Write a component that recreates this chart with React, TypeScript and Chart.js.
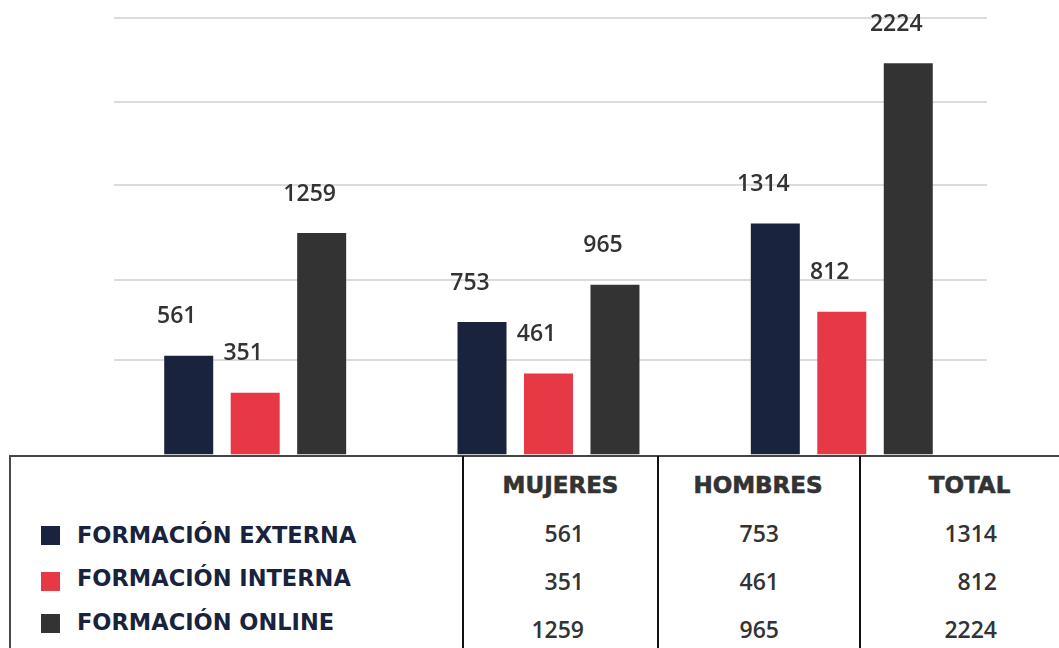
import React, { useEffect, useRef } from 'react';
import { Chart, registerables } from 'chart.js';

Chart.register(...registerables);

// ---- data ----
const categories = ['MUJERES', 'HOMBRES', 'TOTAL'];
const seriesNames = ['FORMACIÓN EXTERNA', 'FORMACIÓN INTERNA', 'FORMACIÓN ONLINE'];
const externa = [561, 753, 1314];
const interna = [351, 461, 812];
const online = [1259, 965, 2224];
const gridValues = [538, 993, 1533, 2007, 2482];
const colors = ['#1a233e', '#e73845', '#333333'];

const seriesValues = [externa, interna, online];

const Y_MAX = 2482;

type TextProps = {
  x: number;
  y: number;
  size: number;
  text: string;
  align: 'left' | 'center' | 'right';
  font: string;
  weight: number;
  color: string;
  stroke?: number;
};

function Txt({ x, y, size, text, align, font, weight, color, stroke }: TextProps) {
  const tx = align === 'left' ? '0' : align === 'center' ? '-50%' : '-100%';
  return (
    <div
      style={{
        position: 'absolute',
        left: x,
        top: y - size / 2,
        fontSize: size,
        lineHeight: size + 'px',
        fontFamily: font,
        fontWeight: weight,
        color,
        whiteSpace: 'nowrap',
        WebkitTextStroke: stroke ? `${stroke}px ${color}` : undefined,
        transform: `translateX(${tx})`,
      }}
    >
      {text}
    </div>
  );
}

export default function App() {
  const ref = useRef<HTMLCanvasElement>(null);

  useEffect(() => {
    if (!ref.current) return;
    const labelPlugin = {
      id: 'valueLabels',
      afterDatasetsDraw(chart: any) {
        const ctx = chart.ctx;
        ctx.save();
        ctx.font = '600 23px "Open Sans"';
        ctx.fillStyle = '#333333';
        ctx.textAlign = 'center';
        ctx.textBaseline = 'middle';
        chart.data.datasets.forEach((_ds: any, di: number) => {
          const meta = chart.getDatasetMeta(di);
          meta.data.forEach((el: any, i: number) => {
            ctx.fillText(String(seriesValues[di][i]), el.x - 12, el.y - 39);
          });
        });
        ctx.restore();
      },
    };

    const chart = new Chart(ref.current, {
      type: 'bar',
      data: {
        datasets: seriesNames.map((name, si) => ({
          label: name,
          data: seriesValues[si].map((v, i) => ({ x: i, y: v })),
          backgroundColor: colors[si],
          borderWidth: 0,
          categoryPercentage: 0.68,
          barPercentage: 0.737,
        })),
      },
      options: {
        animation: false,
        responsive: false,
        devicePixelRatio: 1,
        layout: { padding: { left: 114, right: 72, top: 18, bottom: 5.5 } },
        plugins: {
          legend: { display: false },
          tooltip: { enabled: false },
        },
        scales: {
          x: {
            type: 'linear',
            offset: false,
            min: -0.4814,
            max: 2.4951,
            display: false,
            afterBuildTicks: (axis: any) => {
              axis.ticks = categories.map((_c, i) => ({ value: i }));
            },
          },
          y: {
            min: 0,
            max: Y_MAX,
            afterBuildTicks: (axis: any) => {
              axis.ticks = gridValues.map((v) => ({ value: v }));
            },
            ticks: { display: false },
            grid: { color: '#dcdcdc', lineWidth: 2, drawTicks: false },
            border: { display: false },
          },
        },
      } as any,
      plugins: [labelPlugin],
    });
    return () => chart.destroy();
  }, []);

  const colLines = [462, 657, 859];
  const headerX = [560.5, 758, 969.5];
  const numRightX = [584, 779, 997];
  const rowY = [533, 581, 629];
  const legendTextY = [535.5, 578.5, 622];
  const legendBoxY = [526, 572, 614];

  return (
    <div
      style={{
        position: 'absolute',
        left: 0,
        top: 0,
        width: 1059,
        height: 648,
        background: '#ffffff',
        overflow: 'hidden',
      }}
    >
      <canvas
        ref={ref}
        width={1059}
        height={460}
        style={{ position: 'absolute', left: 0, top: 0, width: 1059, height: 460 }}
      />
      {/* table borders */}
      <div style={{ position: 'absolute', left: 9, top: 455, width: 1050, height: 2, background: '#444444' }} />
      <div style={{ position: 'absolute', left: 9, top: 455, width: 2, height: 193, background: '#4a4a4a' }} />
      {colLines.map((x, i) => (
        <div key={'cl' + i} style={{ position: 'absolute', left: x, top: 456, width: 2, height: 192, background: '#111111' }} />
      ))}
      {/* headers */}
      {categories.map((c, i) => (
        <Txt key={'h' + i} x={headerX[i]} y={485} size={23} text={c} align="center" font='"DejaVu Sans"' weight={700} color="#333333" stroke={0.6} />
      ))}
      {/* legend */}
      {seriesNames.map((n, si) => (
        <React.Fragment key={'lg' + si}>
          <div style={{ position: 'absolute', left: 41, top: legendBoxY[si], width: 19, height: 19, background: colors[si] }} />
          <Txt x={77} y={legendTextY[si]} size={22.5} text={n} align="left" font='"DejaVu Sans"' weight={700} color="#1a233e" />
        </React.Fragment>
      ))}
      {/* values */}
      {seriesValues.map((vals, si) =>
        vals.map((v, ci) => (
          <Txt key={'v' + si + '-' + ci} x={numRightX[ci]} y={rowY[si]} size={23} text={String(v)} align="right" font='"Open Sans"' weight={600} color="#333333" />
        ))
      )}
    </div>
  );
}
